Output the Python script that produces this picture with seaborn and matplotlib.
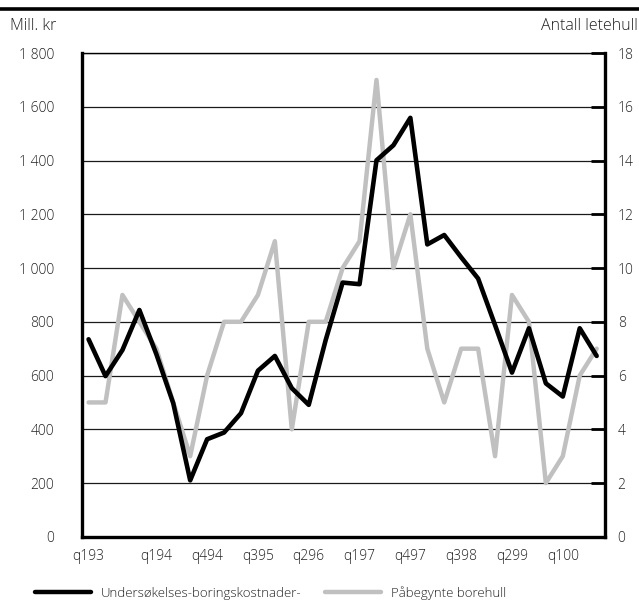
import pandas as pd
import matplotlib.pyplot as plt
import seaborn as sns
from matplotlib.lines import Line2D
from matplotlib.ticker import FuncFormatter

# Quarterly data, q1 1993 - q3 2000
quarters = ["q193", "q293", "q393", "q493",
            "q194", "q294", "q394", "q494",
            "q195", "q295", "q395", "q495",
            "q196", "q296", "q396", "q496",
            "q197", "q297", "q397", "q497",
            "q198", "q298", "q398", "q498",
            "q199", "q299", "q399", "q499",
            "q100", "q200", "q300"]

# Exploration drilling costs, mill. kr (left axis)
cost = [735, 598, 695, 844, 680, 497, 210, 363, 388, 460,
        618, 673, 553, 491, 732, 946, 940, 1401, 1457, 1559,
        1088, 1123, 1040, 961, 788, 611, 776, 571, 522, 776, 673]

# Wells started (right axis)
holes = [5, 5, 9, 8, 7, 5, 3, 6, 8, 8,
         9, 11, 4, 8, 8, 10, 11, 17, 10, 12,
         7, 5, 7, 7, 3, 9, 8, 2, 3, 6, 7]

shown_labels = ["q193", "q194", "q494", "q395", "q296",
                "q197", "q497", "q398", "q299", "q100"]

df = pd.DataFrame({"kvartal": quarters,
                   "pos": range(len(quarters)),
                   "kostnad": cost,
                   "borehull": holes})

sns.set_style("white")
plt.rcParams['font.family'] = ['Open Sans', 'DejaVu Sans']
plt.rcParams['font.weight'] = 'light'
txt_col = "#222222"

fig = plt.figure(figsize=(6.39, 6.10), dpi=100)
ax = fig.add_axes([0.128, 0.12, 0.819, 0.793])
ax2 = ax.twinx()

# gray series + grid on the lower axes, black series on top
sns.lineplot(data=df, x="pos", y="borehull", ax=ax2, color="#c0c0c0", linewidth=3.2)
sns.lineplot(data=df, x="pos", y="kostnad", ax=ax, color="black", linewidth=3.3)
ax.set_zorder(ax2.get_zorder() + 1)
ax.patch.set_visible(False)
ax2.patch.set_visible(True)
ax2.patch.set_facecolor("white")

ax.set_xlim(-0.4, 30.5)
ax.set_ylim(0, 1800)
ax2.set_ylim(0, 18)
ax.set_xlabel("")
ax.set_ylabel("")
ax2.set_ylabel("")

ax.set_xticks(range(len(quarters)))
ax.set_xticklabels([q if q in shown_labels else "" for q in quarters])
ax.set_yticks(range(0, 1801, 200))
ax.yaxis.set_major_formatter(FuncFormatter(lambda v, p: f"{v:,.0f}".replace(",", " ")))
ax2.set_yticks(range(0, 19, 2))

ax2.yaxis.grid(True, color="#1a1a1a", linewidth=0.9)
ax.grid(False)

ax.tick_params(axis="x", direction="in", length=8, width=1.1, color="black",
               labelsize=10, labelcolor=txt_col, pad=9)
ax.tick_params(axis="y", length=0, labelsize=10, labelcolor=txt_col, pad=20)
ax2.tick_params(axis="y", direction="in", length=10, width=2, color="black",
                labelsize=10, labelcolor=txt_col, pad=9)

for side in ["left", "bottom"]:
    ax.spines[side].set_linewidth(2.4)
    ax.spines[side].set_color("black")
ax.spines["right"].set_visible(False)
ax.spines["top"].set_linewidth(1)
ax.spines["top"].set_color("black")
for side in ["left", "bottom", "top"]:
    ax2.spines[side].set_visible(False)
ax2.spines["right"].set_linewidth(2.4)
ax2.spines["right"].set_color("black")

# header
fig.add_artist(Line2D([0, 1], [0.986, 0.986], transform=fig.transFigure,
                      color="black", linewidth=2.6))
fig.text(0.016, 0.958, "Mill. kr", fontsize=11.5, color=txt_col, va="center", ha="left")
fig.text(0.998, 0.958, "Antall letehull", fontsize=11.5, color=txt_col, va="center", ha="right")

# legend
handles = [Line2D([], [], color="black", linewidth=3.2, solid_capstyle="round"),
           Line2D([], [], color="#c0c0c0", linewidth=3.2, solid_capstyle="round")]
fig.legend(handles, ["Undersøkelses-boringskostnader-", "Påbegynte borehull"],
           loc="center left", bbox_to_anchor=(0.055, 0.028), ncol=2, frameon=False,
           fontsize=9.5, handlelength=4.2, handletextpad=0.8, columnspacing=1.8,
           borderpad=0, borderaxespad=0, labelcolor=txt_col)

fig.savefig("out.png", dpi=100)
